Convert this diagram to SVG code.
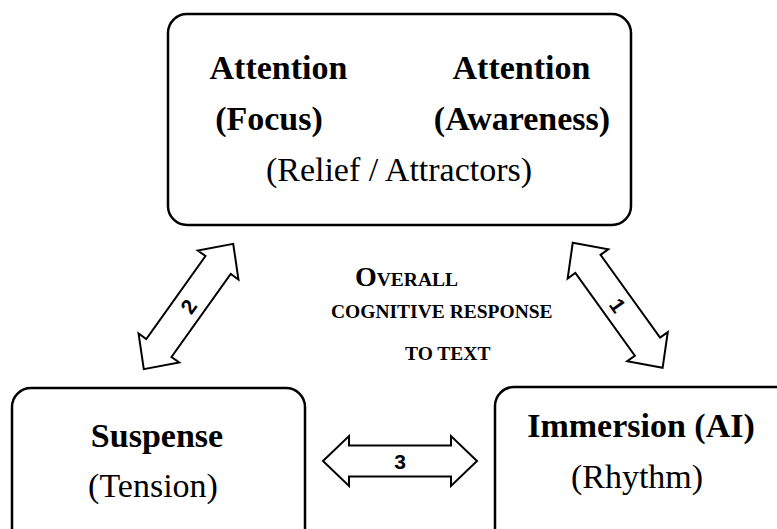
<svg xmlns="http://www.w3.org/2000/svg" width="777" height="529" viewBox="0 0 777 529">
<style>
.box{fill:#fff;stroke:#000;stroke-width:2.5}
.arr{fill:#fff;stroke:#000;stroke-width:2;stroke-linejoin:miter}
.b{font-family:"Liberation Serif","Times New Roman",serif;font-weight:bold;font-size:34px;fill:#000;text-anchor:middle}
.r{font-family:"Liberation Serif","Times New Roman",serif;font-size:34px;fill:#000;text-anchor:middle}
.c{font-family:"Liberation Serif","Times New Roman",serif;font-weight:bold;font-size:19.5px;fill:#000}
.n{font-family:"Liberation Sans",Arial,sans-serif;font-weight:bold;font-size:21px;fill:#000;text-anchor:middle}
</style>
<defs>
<polygon id="dbl" points="-77,0 -51,-25 -51,-15.5 51,-15.5 51,-25 77,0 51,25 51,15.5 -51,15.5 -51,25"/>
</defs>
<g id="connectors">
<g id="arrow1" transform="translate(617.7,305.3) rotate(54.3)">
<use href="#dbl" class="arr"/>
<text class="n" x="0" y="7.5">1</text>
</g>
<g id="arrow2" transform="translate(188.5,306.5) rotate(-54.5)">
<use href="#dbl" class="arr"/>
<text class="n" x="0" y="7.5">2</text>
</g>
<g id="arrow3" transform="translate(400,461)">
<use href="#dbl" class="arr"/>
<text class="n" x="0" y="7.5">3</text>
</g>
</g>
<g id="attention">
<rect class="box" x="168" y="14" width="463" height="211" rx="19"/>
<text class="b" x="278.5" y="79">Attention</text>
<text class="b" x="521.5" y="79">Attention</text>
<text class="b" x="269" y="130">(Focus)</text>
<text class="b" x="522" y="130">(Awareness)</text>
<text class="r" x="399" y="181">(Relief / Attractors)</text>
</g>
<g id="center-label">
<text class="c" x="355" y="286" font-size="20.5"><tspan font-size="28">O</tspan>VERALL</text>
<text class="c" x="331" y="318">COGNITIVE RESPONSE</text>
<text class="c" x="405" y="360">TO TEXT</text>
</g>
<g id="suspense">
<rect class="box" x="12" y="388" width="293" height="170" rx="19"/>
<text class="b" x="157" y="447">Suspense</text>
<text class="r" x="153" y="497" font-size="32">(Tension)</text>
</g>
<g id="immersion">
<rect class="box" x="495" y="387" width="320" height="170" rx="19"/>
<text class="b" x="641" y="437">Immersion (AI)</text>
<text class="r" x="637" y="488">(Rhythm)</text>
</g>
</svg>
